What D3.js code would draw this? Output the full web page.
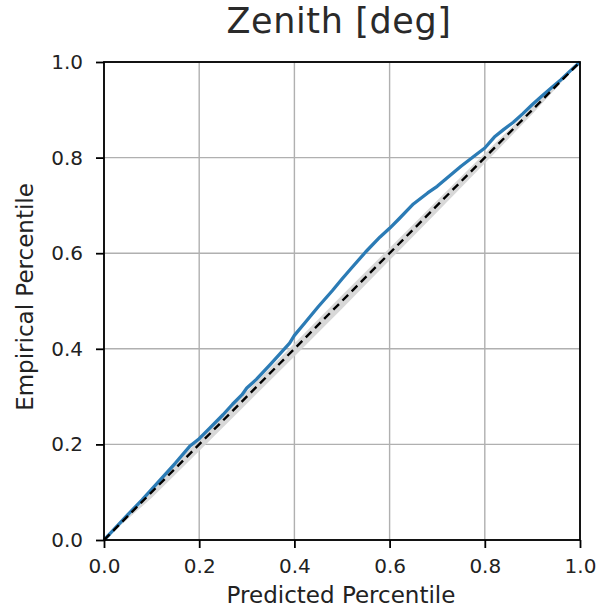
<!DOCTYPE html>
<html>
<head>
<meta charset="utf-8">
<script src="https://cdn.jsdelivr.net/npm/d3@7"></script>
<style>
  body { margin: 0; background: #fff; }
  svg { display: block; font-family: "DejaVu Sans", sans-serif; }
</style>
</head>
<body>
<svg id="chart" width="599" height="608"></svg>
<script>
// predicted percentile (x) and empirical percentile (y) of the calibration curve
const predicted = [0, 0.02, 0.05, 0.08, 0.1, 0.12, 0.15, 0.18, 0.2, 0.22, 0.25, 0.27, 0.29, 0.3, 0.32, 0.35, 0.37,
    0.39, 0.4, 0.42, 0.45, 0.48, 0.5, 0.52, 0.55, 0.58, 0.6, 0.62, 0.65, 0.68, 0.7, 0.72, 0.75, 0.78,
    0.8, 0.82, 0.84, 0.86, 0.88, 0.9, 0.92, 0.94, 0.96, 0.98, 1.0];
const empirical = [0, 0.021, 0.053, 0.084, 0.106, 0.128, 0.161, 0.196, 0.212, 0.232, 0.262, 0.284, 0.304, 0.318, 0.336,
    0.368, 0.39, 0.412, 0.428, 0.452, 0.488, 0.522, 0.546, 0.569, 0.603, 0.634, 0.652, 0.672, 0.703, 0.726,
    0.74, 0.757, 0.782, 0.805, 0.82, 0.843, 0.859, 0.874, 0.892, 0.911, 0.929, 0.946, 0.963, 0.982, 1.0];

// grey band around the ideal diagonal
const bandX = [0, 0.1, 0.2, 0.3, 0.4, 0.5, 0.6, 0.7, 0.8, 0.9, 1.0];
const bandLow = [0, 0.088, 0.186, 0.285, 0.384, 0.484, 0.585, 0.686, 0.788, 0.891, 1.0];
const bandHigh = [0, 0.108, 0.21, 0.311, 0.411, 0.512, 0.611, 0.71, 0.809, 0.906, 1.0];

const ticks = [0, 0.2, 0.4, 0.6, 0.8, 1.0];
const diagonal = [0, 1];

const svg = d3.select('#chart');
const margin = { left: 104, right: 19, top: 62, bottom: 68 };
const W = 599, H = 608;

const x = d3.scaleLinear().domain([0, 1]).range([margin.left, W - margin.right]);
const y = d3.scaleLinear().domain([0, 1]).range([H - margin.bottom, margin.top]);

// grid
svg.append('g')
    .selectAll('line')
    .data(ticks)
    .enter()
    .append('line')
    .attr('x1', d => x(d)).attr('x2', d => x(d))
    .attr('y1', y(0)).attr('y2', y(1))
    .attr('stroke', '#b0b0b0').attr('stroke-width', 1.4);
svg.append('g')
    .selectAll('line')
    .data(ticks)
    .enter()
    .append('line')
    .attr('y1', d => y(d)).attr('y2', d => y(d))
    .attr('x1', x(0)).attr('x2', x(1))
    .attr('stroke', '#b0b0b0').attr('stroke-width', 1.4);

const plot = svg.append('g');

// band
const area = d3.area()
    .x((d, i) => x(bandX[i]))
    .y0((d, i) => y(bandLow[i]))
    .y1((d, i) => y(bandHigh[i]));
plot.append('path')
    .attr('d', area(bandX))
    .attr('fill', '#d4d4d4')
    .attr('opacity', 0.9);

// calibration curve
const line = d3.line()
    .x((d, i) => x(predicted[i]))
    .y((d, i) => y(empirical[i]));
plot.append('path')
    .attr('d', line(predicted))
    .attr('fill', 'none')
    .attr('stroke', '#2b7bb5')
    .attr('stroke-width', 3.3)
    .attr('stroke-linejoin', 'round');

// ideal diagonal
plot.append('line')
    .attr('x1', x(diagonal[0])).attr('y1', y(diagonal[0]))
    .attr('x2', x(diagonal[1])).attr('y2', y(diagonal[1]))
    .attr('stroke', '#000')
    .attr('stroke-width', 2.4)
    .attr('stroke-dasharray', '8,5');

// spines
svg.append('rect')
    .attr('x', x(0)).attr('y', y(1))
    .attr('width', x(1) - x(0)).attr('height', y(0) - y(1))
    .attr('fill', 'none')
    .attr('stroke', '#000')
    .attr('stroke-width', 1.8);

// axes
const fmt = d3.format('.1f');
const xAxis = svg.append('g')
    .attr('transform', `translate(0,${y(0)})`)
    .call(d3.axisBottom(x).tickValues(ticks).tickFormat(fmt).tickSize(8).tickPadding(11));
const yAxis = svg.append('g')
    .attr('transform', `translate(${x(0)},0)`)
    .call(d3.axisLeft(y).tickValues(ticks).tickFormat(fmt).tickSize(8).tickPadding(13));
[xAxis, yAxis].forEach(a => {
    a.select('.domain').remove();
    a.selectAll('.tick line').attr('stroke', '#000').attr('stroke-width', 1.8);
    a.selectAll('.tick text')
        .attr('fill', '#222')
        .style('font-size', '20px')
        .style('font-family', '"DejaVu Sans", sans-serif');
});

// labels
svg.append('text')
    .attr('x', 341).attr('y', 603)
    .attr('text-anchor', 'middle')
    .attr('fill', '#222')
    .style('font-size', '23px')
    .text('Predicted Percentile');

svg.append('text')
    .attr('transform', 'translate(33,297) rotate(-90)')
    .attr('text-anchor', 'middle')
    .attr('fill', '#222')
    .style('font-size', '23px')
    .text('Empirical Percentile');

svg.append('text')
    .attr('x', 339).attr('y', 33)
    .attr('text-anchor', 'middle')
    .attr('fill', '#2a2a2a')
    .style('font-size', '35px')
    .style('letter-spacing', '0.6px')
    .text('Zenith [deg]');
</script>
</body>
</html>
